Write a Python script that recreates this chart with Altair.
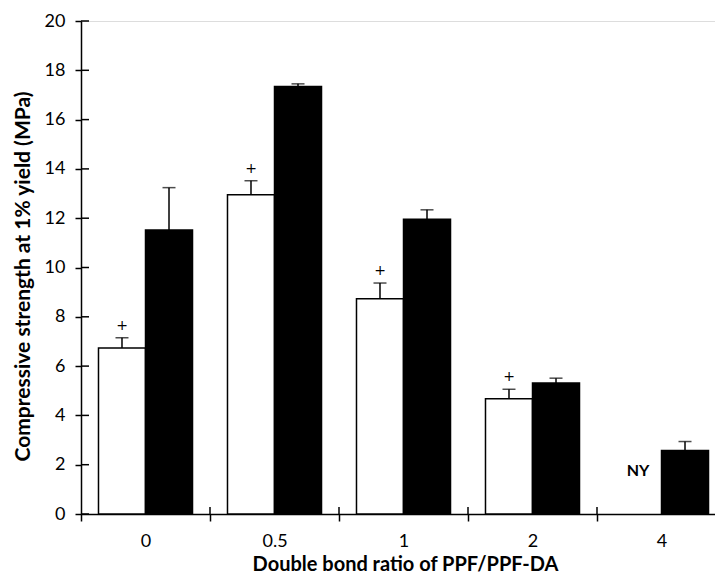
import altair as alt
import pandas as pd

categories = ["0", "0.5", "1", "2", "4"]
white_vals = [6.73, 12.95, 8.73, 4.68, None]
white_err = [0.42, 0.57, 0.64, 0.38, None]
black_vals = [11.52, 17.34, 11.96, 5.31, 2.58]
black_err = [1.72, 0.11, 0.38, 0.20, 0.36]
y_ticks = [0, 2, 4, 6, 8, 10, 12, 14, 16, 18, 20]

rows = []
for c, v, e in zip(categories, white_vals, white_err):
    if v is not None:
        rows.append({"cat": c, "grp": "a", "val": v, "top": v + e, "plus": "+"})
for c, v, e in zip(categories, black_vals, black_err):
    rows.append({"cat": c, "grp": "b", "val": v, "top": v + e, "plus": ""})
df = pd.DataFrame(rows)

FONT = "Lato"
H = 493
W = 634

xscale = alt.Scale(domain=categories, paddingInner=0, paddingOuter=0, range=[0, 645])
yscale = alt.Scale(domain=[0, 20], nice=False)
offscale = alt.Scale(domain=["a", "b"], paddingOuter=0.372, paddingInner=0)

x_enc = alt.X("cat:N", scale=xscale, sort=categories,
              axis=alt.Axis(title="Double bond ratio of PPF/PPF-DA", labelAngle=0,
                            tickBand="extent", tickSize=7, tickWidth=1.5, tickColor="black",
                            domainColor="black", domainWidth=1.5,
                            labelFont=FONT, labelFontSize=18, labelColor="black", labelPadding=11,
                            titleFont=FONT, titleFontSize=20, titleFontWeight="bold",
                            titleColor="black", titleX=324, titleY=56,
                            titleBaseline="alphabetic"))
y_enc = alt.Y("val:Q", scale=yscale,
              axis=alt.Axis(title="Compressive strength at 1% yield (MPa)", values=y_ticks,
                            grid=False, tickSize=6, tickWidth=1.5, tickColor="black",
                            domainColor="black", domainWidth=1.5,
                            labelFont=FONT, labelFontSize=18, labelColor="black", labelPadding=10,
                            titleFont=FONT, titleFontSize=21, titleFontWeight="bold",
                            titleColor="black", titlePadding=11, titleY=255))

base = alt.Chart(df)

bars = base.mark_bar(stroke="black", strokeWidth=1.5).encode(
    x=x_enc,
    xOffset=alt.XOffset("grp:N", scale=offscale),
    y=y_enc,
    fill=alt.Fill("grp:N", scale=alt.Scale(domain=["a", "b"], range=["white", "black"]), legend=None),
)

err_rule = base.mark_rule(color="black", strokeWidth=1.5).encode(
    x=alt.X("cat:N", scale=xscale, sort=categories),
    xOffset=alt.XOffset("grp:N", scale=offscale),
    y=alt.Y("val:Q", scale=yscale),
    y2="top:Q",
)

err_cap = base.mark_tick(color="black", thickness=1.5, size=13, orient="horizontal").encode(
    x=alt.X("cat:N", scale=xscale, sort=categories),
    xOffset=alt.XOffset("grp:N", scale=offscale),
    y=alt.Y("top:Q", scale=yscale),
)

plus = base.mark_text(text="+", font="DejaVu Sans", fontSize=14, color="black", dy=-12).encode(
    x=alt.X("cat:N", scale=xscale, sort=categories),
    xOffset=alt.XOffset("grp:N", scale=offscale),
    y=alt.Y("top:Q", scale=yscale),
    text="plus:N",
)

ny_df = pd.DataFrame({"cat": ["4"], "grp": ["a"], "val": [1.73], "label": ["NY"]})
ny = alt.Chart(ny_df).mark_text(font=FONT, fontSize=16, fontWeight="bold", color="black").encode(
    x=alt.X("cat:N", scale=xscale, sort=categories),
    xOffset=alt.XOffset("grp:N", scale=offscale),
    y=alt.Y("val:Q", scale=yscale),
    text="label:N",
)

ytick_df = pd.DataFrame({"v": y_ticks})
ytick_in = alt.Chart(ytick_df).mark_rule(color="black", strokeWidth=1.5).encode(
    y=alt.Y("v:Q", scale=yscale),
    x=alt.value(0),
    x2=alt.value(8),
)

xtick_df = pd.DataFrame({"cat": categories[1:]})
xtick_in = alt.Chart(xtick_df).mark_rule(color="black", strokeWidth=1.5).encode(
    x=alt.X("cat:N", scale=xscale, sort=categories, bandPosition=0),
    y=alt.value(H - 7),
    y2=alt.value(H),
)

chart = alt.layer(bars, err_rule, err_cap, plus, ny, ytick_in, xtick_in).properties(
    width=W, height=H,
    autosize=alt.AutoSizeParams(type="none"),
    padding={"left": 73, "top": 13, "right": 0, "bottom": 63},
).configure_view(stroke=None).configure(background="white")

chart.save("out.html", embed_options={"renderer": "svg", "actions": False})
